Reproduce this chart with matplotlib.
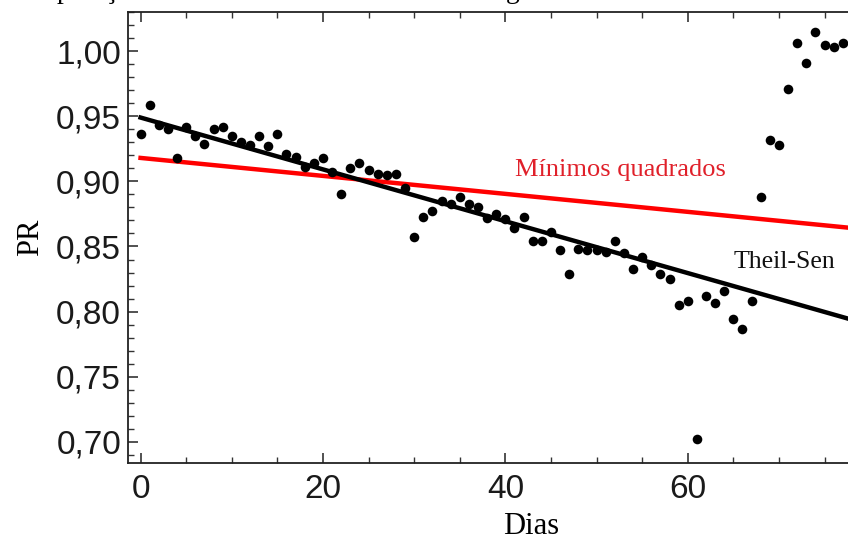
import numpy as np
import matplotlib.pyplot as plt
from matplotlib.ticker import MultipleLocator, FuncFormatter

# PR diario
dias = [0, 1, 2, 3, 4, 5, 6, 7, 8, 9,
        10, 11, 12, 13, 14, 15, 16, 17, 18, 19,
        20, 21, 22, 23, 24, 25, 26, 27, 28, 29,
        30, 31, 32, 33, 34, 35, 36, 37, 38, 39,
        40, 41, 42, 43, 44, 45, 46, 47, 48, 49,
        50, 51, 52, 53, 54, 55, 56, 57, 58, 59,
        60, 61, 62, 63, 64, 65, 66, 67, 68, 69,
        70, 71, 72, 73, 74, 75, 76, 77]
pr = [0.936, 0.959, 0.943, 0.940, 0.918, 0.942, 0.935, 0.929, 0.940, 0.942,
      0.935, 0.930, 0.928, 0.935, 0.927, 0.936, 0.921, 0.919, 0.911, 0.914,
      0.918, 0.907, 0.890, 0.910, 0.914, 0.909, 0.906, 0.905, 0.906, 0.895,
      0.857, 0.873, 0.877, 0.885, 0.883, 0.888, 0.883, 0.880, 0.872, 0.875,
      0.871, 0.864, 0.873, 0.854, 0.854, 0.861, 0.847, 0.829, 0.848, 0.847,
      0.847, 0.846, 0.854, 0.845, 0.833, 0.842, 0.836, 0.829, 0.825, 0.805,
      0.808, 0.702, 0.812, 0.807, 0.816, 0.794, 0.787, 0.808, 0.888, 0.932,
      0.928, 0.971, 1.006, 0.991, 1.015, 1.005, 1.003, 1.006]

# retas ajustadas: (intercepto, inclinacao)
theil_sen = (0.949, -0.00199)
minimos_quadrados = (0.918, -0.00069)

titulo = 'Comparação entre estimador Theil-Sen e a regressão linear'

W, H = 848, 542
fig = plt.figure(figsize=(W / 100, H / 100), dpi=100)
# o quadro continua alem da borda direita da imagem
ax = fig.add_axes([0.151, 0.1458, 0.95, 0.832])

xmin = -1.37
xmax = xmin + 0.95 * W / 9.12
ax.set_xlim(xmin, xmax)
ax.set_ylim(0.6838, 1.030)

xx = np.array([0, xmax])
ax.plot(xx, minimos_quadrados[0] + minimos_quadrados[1] * xx, color='#ff0000', lw=3.2, zorder=2)
ax.plot(xx, theil_sen[0] + theil_sen[1] * xx, color='black', lw=3.2, zorder=2)
ax.scatter(dias, pr, s=48, color='black', zorder=3, linewidths=0)

fig.text(620 / W, 1 - 170 / H, 'Mínimos quadrados', color='#e0202a',
         family='Liberation Serif', fontsize=19, ha='center', va='center')
fig.text(784 / W, 1 - 262 / H, 'Theil-Sen', color='#111111',
         family='Liberation Serif', fontsize=18.5, ha='center', va='center')

# eixos estilo "frame"
for s in ax.spines.values():
    s.set_linewidth(1.3)
    s.set_color('#222222')
ax.set_xticks([0, 20, 40, 60])
ax.set_xticks(np.arange(0, 80, 5), minor=True)
ax.yaxis.set_major_locator(MultipleLocator(0.05))
ax.yaxis.set_minor_locator(MultipleLocator(0.01))
ax.yaxis.set_major_formatter(FuncFormatter(lambda v, p: ('%.2f' % v).replace('.', ',')))
ax.tick_params(which='both', direction='in', top=True, right=True, color='#333333')
ax.tick_params(which='major', length=7, width=1.2, labelsize=24)
ax.tick_params(axis='x', which='major', pad=8)
ax.tick_params(axis='y', which='major', pad=5)
ax.tick_params(which='minor', length=4, width=1.0)
for lab in ax.get_xticklabels() + ax.get_yticklabels():
    lab.set_family('Liberation Sans')
    lab.set_color('#1a1a1a')

ax.set_xlabel('Dias', family='Liberation Serif', fontsize=22, labelpad=5)
ax.set_ylabel('PR', family='Liberation Serif', fontsize=22, labelpad=8)

fig.text(0.004, 1 + 1.5 / H, titulo, family='Liberation Serif', fontsize=20,
         ha='left', va='baseline')

fig.savefig('out.png', dpi=100)
